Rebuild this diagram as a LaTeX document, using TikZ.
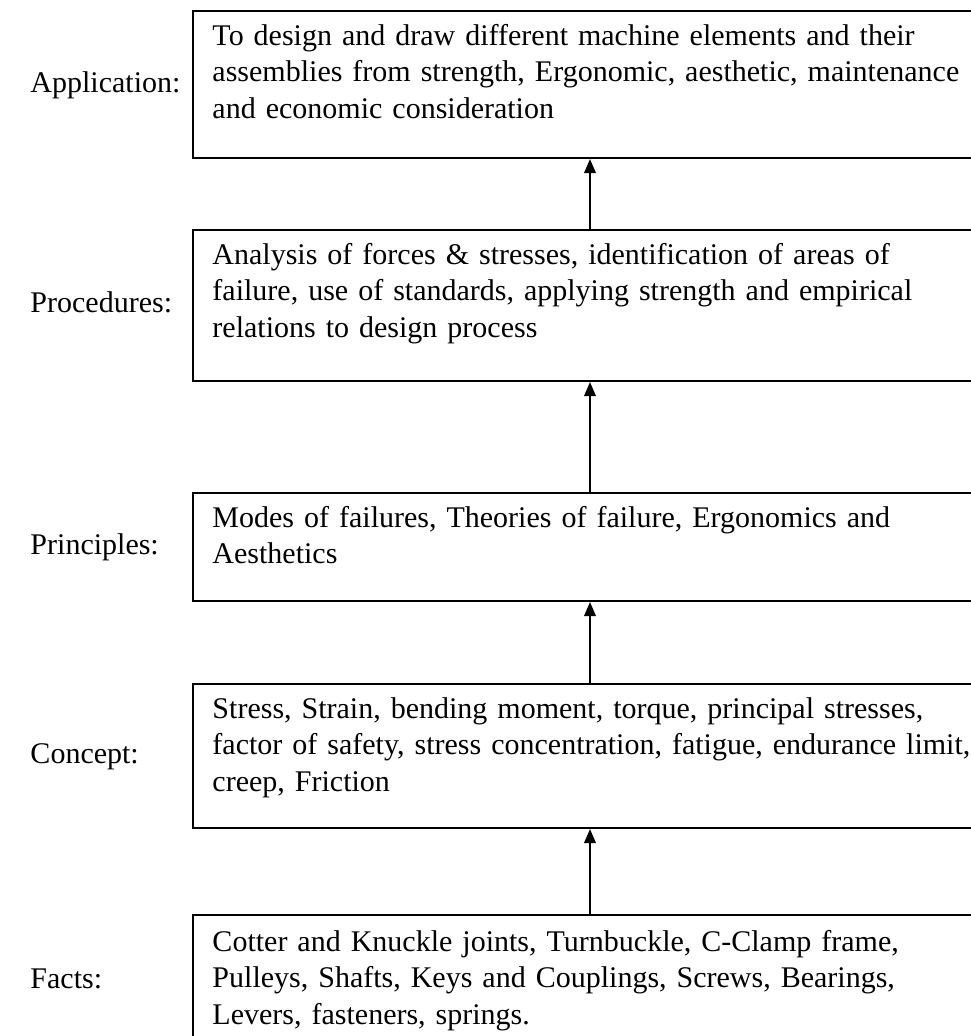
\documentclass[tikz,border=0pt]{standalone}
\usepackage{fontspec}
\setmainfont{Liberation Serif}
\usetikzlibrary{positioning,arrows.meta}

\begin{document}
\begin{tikzpicture}[x=0.4pt, y=-0.4pt,
    box/.style={draw, line width=0.8pt, anchor=north west, inner sep=0pt, minimum width=314.4pt},
    txt/.style={anchor=base west, inner sep=0pt, text width=310pt, align=left,
                font=\fontsize{12}{14.6}\selectfont},
    lbl/.style={anchor=base west, inner sep=0pt, font=\fontsize{12}{14.6}\selectfont},
    up/.style={line width=0.8pt, -{Triangle[length=5.6pt, width=4.6pt]}}]
      \useasboundingbox (0, 0) rectangle (971, 1036);
      \clip (0, 0) rectangle (971, 1036);
      % boxes, top to bottom
      \node (app)   [box, minimum height=58.8pt] at (192, 10)  {};
      \node (proc)  [box, minimum height=60.4pt] at (192, 229) {};
      \node (princ) [box, minimum height=43.2pt] at (192, 492) {};
      \node (conc)  [box, minimum height=57.6pt] at (192, 683) {};
      \node (facts) [box, minimum height=64pt]   at (192, 914) {};
      % box texts
      \draw (212, 45)  node (appt) [txt] {To design and draw different machine elements and their\\
                                           assemblies from strength, Ergonomic, aesthetic, maintenance\\
                                           and economic consideration}
            (212, 264) node (proct) [txt] {Analysis of forces \& stresses, identification of areas of\\
                                           failure, use of standards, applying strength and empirical\\
                                           relations to design process}
            (212, 527) node (princt) [txt] {Modes of failures, Theories of failure, Ergonomics and\\
                                            Aesthetics}
            (212, 718) node (conct) [txt] {Stress, Strain, bending moment, torque, principal stresses,\\
                                           factor of safety, stress concentration, fatigue, endurance limit,\\
                                           creep, Friction}
            (212, 951) node (factst) [txt] {Cotter and Knuckle joints, Turnbuckle, C-Clamp frame,\\
                                            Pulleys, Shafts, Keys and Couplings, Screws, Bearings,\\
                                            Levers, fasteners, springs.};
      % labels on the left
      \draw (30, 92)  node (appl) [lbl] {Application:}
            (30, 312) node (procl) [lbl] {Procedures:}
            (30, 554) node (princl) [lbl] {Principles:}
            (30, 763) node (concl) [lbl] {Concept:}
            (30, 988) node (factsl) [lbl] {Facts:};
      \coordinate (ax) at (590, 0);
      \path[up] (proc.north -| ax) edge (app.south -| ax)
                (princ.north -| ax) edge (proc.south -| ax)
                (conc.north -| ax) edge (princ.south -| ax)
                (facts.north -| ax) edge (conc.south -| ax);
\end{tikzpicture}
\end{document}
